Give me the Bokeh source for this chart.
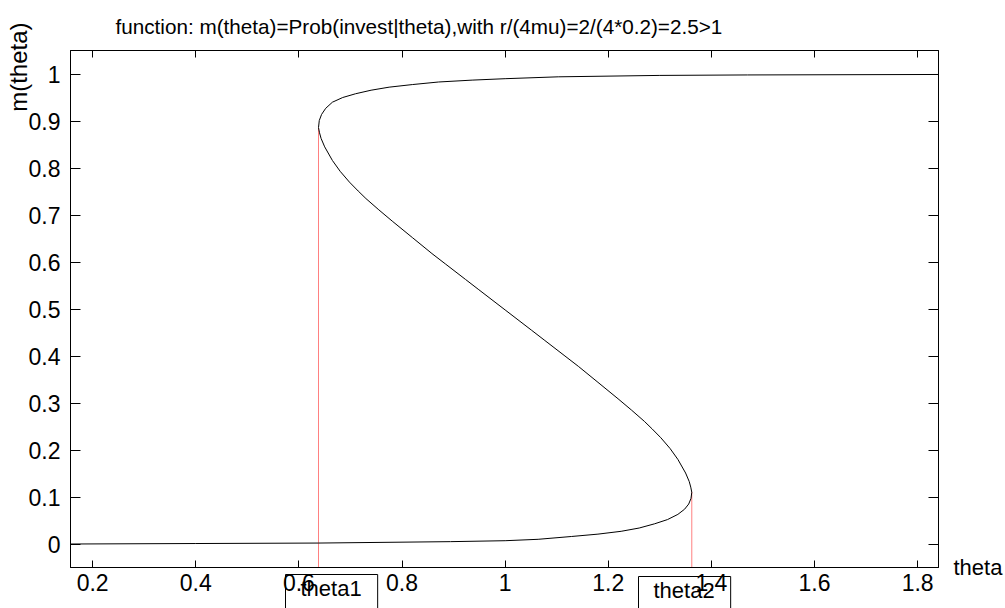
from bokeh.plotting import figure
from bokeh.models import Range1d, LinearAxis, FixedTicker, Title
from bokeh.embed import file_html
from bokeh.resources import INLINE

# ---- data (theta as a function of m) ----
theta_vals = [0.157, 0.400, 0.638, 0.894, 1.000, 1.064, 1.129, 1.180, 1.225, 1.260,
              1.290, 1.315, 1.335, 1.348, 1.356, 1.3605, 1.362,
              1.360, 1.357, 1.350, 1.335, 1.320, 1.302, 1.285, 1.270, 1.245, 1.219,
              1.180, 1.142, 1.116, 1.077, 1.051, 1.000,
              0.949, 0.923, 0.884, 0.858, 0.820, 0.781, 0.755, 0.730, 0.715, 0.698,
              0.680, 0.665, 0.650, 0.643, 0.640, 0.638,
              0.6395, 0.644, 0.652, 0.665, 0.685, 0.710, 0.740, 0.775, 0.820, 0.871,
              0.936, 1.000, 1.103, 1.300, 1.470, 1.8405]
m_vals = [0.000, 0.001, 0.002, 0.005, 0.007, 0.010, 0.016, 0.021, 0.027, 0.034,
          0.043, 0.052, 0.063, 0.074, 0.085, 0.097, 0.110,
          0.121, 0.133, 0.151, 0.180, 0.203, 0.226, 0.245, 0.261, 0.285, 0.309,
          0.344, 0.378, 0.400, 0.433, 0.455, 0.498,
          0.541, 0.563, 0.596, 0.618, 0.652, 0.687, 0.711, 0.735, 0.751, 0.770,
          0.793, 0.816, 0.845, 0.863, 0.875, 0.886,
          0.901, 0.914, 0.927, 0.940, 0.950, 0.958, 0.9655, 0.972, 0.9775, 0.983,
          0.987, 0.990, 0.994, 0.997, 0.998, 0.999]

turn_names = ["theta1", "theta2"]
turn_theta = [0.638, 1.362]
turn_m = [0.886, 0.110]

x_ticks = [0.2, 0.4, 0.6, 0.8, 1.0, 1.2, 1.4, 1.6, 1.8]
y_ticks = [0, 0.1, 0.2, 0.3, 0.4, 0.5, 0.6, 0.7, 0.8, 0.9, 1.0]

title_text = "function: m(theta)=Prob(invest|theta),with r/(4mu)=2/(4*0.2)=2.5>1"
x_label = "theta"
y_label = "m(theta)"

# ---- layout ----
W, H = 1005, 608
FL, FR, FT, FB = 70, 942, 50, 567
X0, X1 = min(theta_vals), max(theta_vals)
Y0, Y1 = -0.05, 1.05
FONT = "Liberation Sans"

p = figure(width=W, height=H, output_backend="svg", toolbar_location=None,
           x_range=Range1d(X0, X1), y_range=Range1d(Y0, Y1),
           min_border_left=FL, min_border_right=W - FR,
           min_border_top=FT, min_border_bottom=H - FB)
p.xgrid.visible = False
p.ygrid.visible = False
p.outline_line_color = "black"
p.outline_line_width = 1
p.background_fill_color = "white"
p.border_fill_color = "white"

# title
p.title.text = title_text
p.title.align = "left"
p.title.offset = 45
p.title.text_font = FONT
p.title.text_font_size = "20.7px"
p.title.text_font_style = "normal"
p.title.text_color = "black"
p.title.vertical_align = "middle"
p.title.standoff = 23

for ax in p.xaxis:
    ax.ticker = FixedTicker(ticks=x_ticks)
    ax.major_tick_in = 7
    ax.major_tick_out = 0
    ax.minor_tick_line_color = None
    ax.major_label_standoff = 6
for ax in p.yaxis:
    ax.ticker = FixedTicker(ticks=y_ticks)
    ax.major_tick_in = 10
    ax.major_tick_out = 0
    ax.minor_tick_line_color = None
    ax.major_label_standoff = 10
for ax in p.xaxis + p.yaxis:
    ax.axis_line_color = "black"
    ax.major_tick_line_color = "black"
    ax.major_label_text_font = FONT
    ax.major_label_text_font_size = "23px"
    ax.major_label_text_color = "black"

# tick marks on the top and right frame edges
top_ax = LinearAxis(ticker=FixedTicker(ticks=x_ticks), major_tick_in=7, major_tick_out=0,
                    minor_tick_line_color=None, major_label_text_font_size="1px",
                    major_label_text_color=None, major_label_standoff=0,
                    axis_line_color="black")
right_ax = LinearAxis(ticker=FixedTicker(ticks=y_ticks), major_tick_in=10, major_tick_out=0,
                      minor_tick_line_color=None, major_label_text_font_size="1px",
                      major_label_text_color=None, major_label_standoff=0,
                      axis_line_color="black")
p.add_layout(top_ax, "above")
p.add_layout(right_ax, "right")

# x-axis name at the lower right, beside the frame
xname_ax = LinearAxis(ticker=FixedTicker(ticks=[Y0 + 1e-9]),
                      major_label_overrides={Y0 + 1e-9: x_label},
                      major_tick_line_color=None, minor_tick_line_color=None,
                      axis_line_color=None, major_label_standoff=9,
                      major_label_text_font=FONT, major_label_text_font_size="22px",
                      major_label_text_color="black")
p.add_layout(xname_ax, "right")

# y-axis name, rotated, at the upper left
p.add_layout(Title(text=y_label, align="right", offset=-28, standoff=-13,
                   text_font=FONT, text_font_size="24px", text_font_style="normal",
                   text_color="black"), "left")

# boxed names of the turning points, under the x axis
box_offsets = [215, 568]
box_standoffs = [-38, -38]
for name, off, so in zip(turn_names, box_offsets, box_standoffs):
    kw = dict(text=name, align="left", offset=off, vertical_align="top", standoff=so,
              text_font=FONT, text_font_size="22px", text_font_style="normal",
              text_color="black", border_line_color="black", border_line_width=1,
              background_fill_color=None)
    if "padding" in Title.properties():
        kw["padding"] = dict(left=15, right=16, top=1, bottom=12)
    p.add_layout(Title(**kw), "below")

# red dotted verticals at the turning points
p.segment(x0=turn_theta, y0=[Y0] * len(turn_theta), x1=turn_theta, y1=turn_m,
          line_color="#ff0000", line_width=1, line_dash="1 1")

# the S-curve
p.line(theta_vals, m_vals, line_color="black", line_width=1)

open("out.html", "w").write(file_html(p, INLINE))
